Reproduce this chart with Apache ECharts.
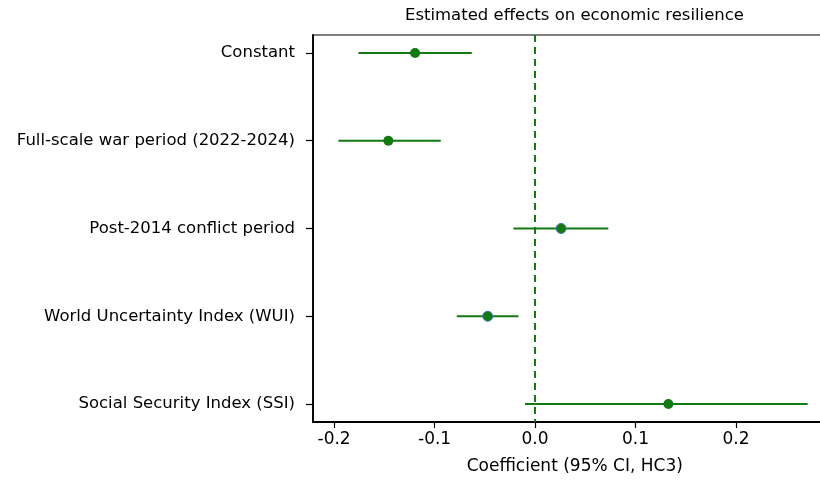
<!DOCTYPE html>
<html>
<head>
<meta charset="utf-8">
<script src="https://cdn.jsdelivr.net/npm/echarts@6/dist/echarts.min.js"></script>
<style>html,body{margin:0;padding:0;background:#fff;overflow:hidden;width:820px;height:480px;}#c{width:840px;height:480px;}</style>
</head>
<body>
<div id="c"></div>
<script>
const categories = ["Constant", "Full-scale war period (2022-2024)", "Post-2014 conflict period", "World Uncertainty Index (WUI)", "Social Security Index (SSI)"];
const estimates = [-0.1194, -0.1460, 0.0259, -0.0471, 0.1327];
const ciLow = [-0.1758, -0.1957, -0.0216, -0.0779, -0.0100];
const ciHigh = [-0.0630, -0.0938, 0.0729, -0.0166, 0.2713];
const xTicks = [-0.2, -0.1, 0.0, 0.1, 0.2];
const titleText = "Estimated effects on economic resilience";
const xName = "Coefficient (95% CI, HC3)";

const GREEN = '#137a13';
const FONT = 'DejaVu Sans';
const chart = echarts.init(document.getElementById('c'), null, {renderer: 'canvas'});

const catIdx = categories.map((_, i) => i);
const ciData = categories.map((_, i) => [ciLow[i], ciHigh[i], i]);
const ptData = categories.map((_, i) => {
  const item = {value: [estimates[i], i]};
  if (i === 2 || i === 3) item.itemStyle = {borderColor: '#3d78a8', borderWidth: 1};
  return item;
});

chart.setOption({
  animation: false,
  textStyle: {fontFamily: FONT},
  graphic: [{
    type: 'text', x: 574.5, y: 16,
    style: {text: titleText, fill: '#000', fontSize: 16.5, fontFamily: FONT, align: 'center', verticalAlign: 'middle'}
  }],
  grid: {left: 313, top: 35, bottom: 58, right: 3.5, show: true, borderColor: '#000', borderWidth: 1.2, backgroundColor: 'transparent'},
  xAxis: {
    type: 'value', min: -0.221, max: 0.3,
    axisLine: {show: true, onZero: false, lineStyle: {color: '#000', width: 1.8}},
    splitLine: {show: false},
    axisTick: {show: true, length: 6, customValues: xTicks, lineStyle: {color: '#000', width: 1.2}},
    axisLabel: {customValues: xTicks, color: '#000', fontSize: 17, fontFamily: FONT, margin: 9,
      formatter: v => (Math.abs(v) < 1e-9 ? 0 : v).toFixed(1)},
    name: xName, nameLocation: 'middle', nameGap: 36,
    nameTextStyle: {color: '#000', fontSize: 17, fontFamily: FONT}
  },
  yAxis: {
    type: 'value', inverse: true, min: -0.205, max: 4.205,
    axisLine: {show: true, onZero: false, lineStyle: {color: '#000', width: 1.8}},
    splitLine: {show: false},
    axisTick: {show: true, length: 7, customValues: catIdx, lineStyle: {color: '#000', width: 1.2}},
    axisLabel: {customValues: catIdx, color: '#000', fontSize: 16.5, fontFamily: FONT, margin: 18,
      formatter: v => categories[Math.round(v)] || ''}
  },
  series: [
    {
      type: 'custom',
      data: ciData,
      encode: {x: [0, 1], y: 2},
      renderItem: (params, api) => {
        const a = api.coord([api.value(0), api.value(2)]);
        const b = api.coord([api.value(1), api.value(2)]);
        return {type: 'line', shape: {x1: a[0], y1: a[1], x2: b[0], y2: b[1]},
          style: {stroke: GREEN, lineWidth: 2}};
      },
      z: 2,
      markLine: {
        silent: true, symbol: 'none', label: {show: false},
        lineStyle: {color: GREEN, type: [7, 5], width: 2},
        data: [{xAxis: 0}]
      }
    },
    {
      type: 'scatter', data: ptData, symbol: 'circle', symbolSize: 10,
      itemStyle: {color: GREEN, opacity: 1}, z: 3
    }
  ]
});
</script>
</body>
</html>
